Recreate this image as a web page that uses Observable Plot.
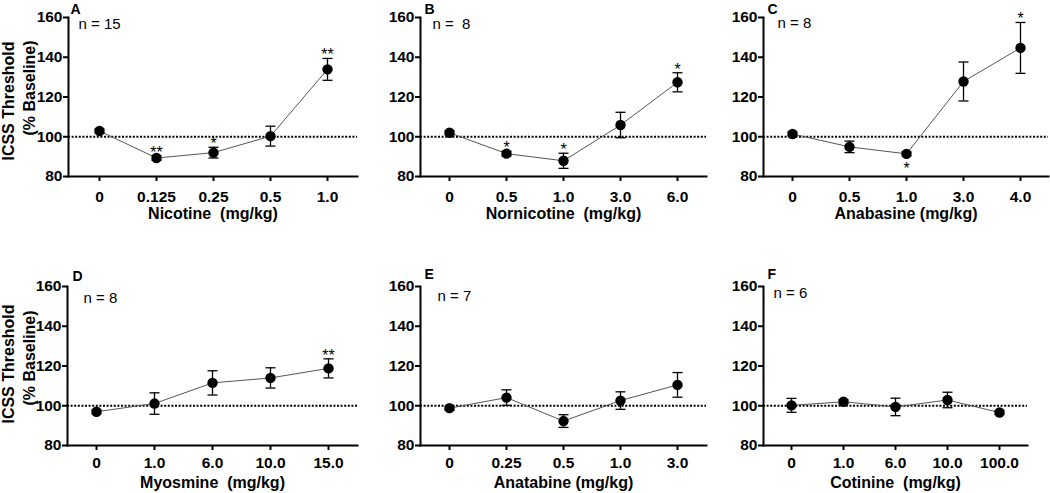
<!DOCTYPE html>
<html><head><meta charset="utf-8">
<script src="https://cdn.jsdelivr.net/npm/d3@7"></script>
<script src="https://cdn.jsdelivr.net/npm/@observablehq/plot@0.6"></script>
<style>
body{margin:0;background:#fff;}
#root{position:relative;width:1050px;height:493px;overflow:hidden;background:#fff;}
#root svg{position:absolute;overflow:visible;}
#root text{white-space:pre;}
</style></head><body><div id="root"></div>
<script>
// ---- data ----
const yTicks = [80, 100, 120, 140, 160];
const yLabelLines = ["ICSS Threshold", "(% Baseline)"];
const panelLetters = ["A", "B", "C", "D", "E", "F"];
const drugLabels = ["Nicotine  (mg/kg)", "Nornicotine  (mg/kg)", "Anabasine (mg/kg)", "Myosmine  (mg/kg)", "Anatabine (mg/kg)", "Cotinine  (mg/kg)"];
const nLabels = ["n = 15", "n =  8", "n = 8", "n = 8", "n = 7", "n = 6"];

const dosesA = ["0", "0.125", "0.25", "0.5", "1.0"];
const meansA = [102.9, 89.3, 92.0, 100.3, 133.9];
const semsA  = [1.0, 1.2, 2.7, 5.0, 5.5];
const sigA   = ["", "**", "*", "", "**"];

const dosesB = ["0", "0.5", "1.0", "3.0", "6.0"];
const meansB = [102.0, 91.5, 87.9, 105.9, 127.4];
const semsB  = [1.0, 1.2, 3.8, 6.4, 4.8];
const sigB   = ["", "*", "*", "", "*"];

const dosesC = ["0", "0.5", "1.0", "3.0", "4.0"];
const meansC = [101.4, 94.9, 91.4, 127.8, 144.7];
const semsC  = [1.0, 2.9, 1.0, 9.8, 12.8];
const sigC   = ["", "", "*", "", "*"];
const sigBelowC = [false, false, true, false, false];

const dosesD = ["0", "1.0", "6.0", "10.0", "15.0"];
const meansD = [97.0, 101.1, 111.5, 114.0, 118.8];
const semsD  = [1.0, 5.4, 6.1, 5.1, 4.8];
const sigD   = ["", "", "", "", "**"];

const dosesE = ["0", "0.25", "0.5", "1.0", "3.0"];
const meansE = [98.8, 104.1, 92.3, 102.6, 110.5];
const semsE  = [1.0, 3.9, 3.2, 4.4, 6.2];
const sigE   = ["", "", "", "", ""];

const dosesF = ["0", "1.0", "6.0", "10.0", "100.0"];
const meansF = [100.2, 102.0, 99.4, 102.9, 96.6];
const semsF  = [3.5, 1.0, 4.4, 3.9, 1.0];
const sigF   = ["", "", "", "", ""];

const panelData = [
  [dosesA, meansA, semsA, sigA, null],
  [dosesB, meansB, semsB, sigB, null],
  [dosesC, meansC, semsC, sigC, sigBelowC],
  [dosesD, meansD, semsD, sigD, null],
  [dosesE, meansE, semsE, sigE, null],
  [dosesF, meansF, semsF, sigF, null]
];

// ---- layout ----
const layout = [
  {left: 0,   top: 0,   width: 360, height: 240, mt: 17, mb: 64, ml: 68, mr: 3,  pad: 9, letter: [2, -4], n: [10, 11], yl: [[-60, 4], [-39, -9]]},
  {left: 360, top: 0,   width: 350, height: 240, mt: 17, mb: 64, ml: 60, mr: 4,  pad: 9, letter: [4, -4], n: [12, 11]},
  {left: 710, top: 0,   width: 340, height: 240, mt: 17, mb: 64, ml: 53, mr: 2,  pad: 9, letter: [4, -4], n: [14, 10]},
  {left: 0,   top: 250, width: 360, height: 243, mt: 36, mb: 48, ml: 67, mr: 3,  pad: 6, letter: [5, -6], n: [16, 16], yl: [[-59, -2], [-38, -8]]},
  {left: 360, top: 250, width: 350, height: 243, mt: 36, mb: 48, ml: 60, mr: 4,  pad: 6, letter: [4, -8], n: [17, 14]},
  {left: 710, top: 250, width: 340, height: 243, mt: 36, mb: 48, ml: 53, mr: 23, pad: 6, letter: [4, -8], n: [10, 11]}
];

const FONT = '"Liberation Sans", Arial, Helvetica, sans-serif';
const capSymbol = {
  draw(ctx, size) {
    const r = Math.sqrt(size / Math.PI);
    ctx.moveTo(-r, 0);
    ctx.lineTo(r, 0);
  }
};

const root = document.getElementById("root");

panelData.forEach(([doses, means, sems, sigs, below], k) => {
  const L = layout[k];
  const rows = doses.map((d, i) => ({dose: d, mean: means[i], sem: sems[i], sig: sigs[i], below: below ? below[i] : false}));
  const marks = [
    Plot.ruleY([100], {stroke: "#000", strokeWidth: 2, strokeDasharray: "2,1.6"}),
    Plot.line(rows, {x: "dose", y: "mean", stroke: "#555", strokeWidth: 1}),
    Plot.ruleX(rows, {x: "dose", y1: d => d.mean - d.sem, y2: d => d.mean + d.sem, stroke: "#000", strokeWidth: 1.3}),
    Plot.dot(rows, {x: "dose", y: d => d.mean + d.sem, symbol: capSymbol, r: 5, stroke: "#000", strokeWidth: 1.3, fill: "none"}),
    Plot.dot(rows, {x: "dose", y: d => d.mean - d.sem, symbol: capSymbol, r: 5, stroke: "#000", strokeWidth: 1.3, fill: "none"}),
    Plot.dot(rows, {x: "dose", y: "mean", r: 5.2, fill: "#000", stroke: "none"}),
    Plot.text(rows.filter(d => d.sig && !d.below), {x: "dose", y: d => d.mean + d.sem, text: "sig", lineAnchor: "bottom", dy: 2, fontSize: 16, fontWeight: "normal"}),
    Plot.text(rows.filter(d => d.sig && d.below), {x: "dose", y: "mean", text: "sig", lineAnchor: "bottom", dy: 20, fontSize: 16, fontWeight: "normal"}),
    Plot.frame({anchor: "left", stroke: "#000", strokeWidth: 2}),
    Plot.frame({anchor: "bottom", stroke: "#000", strokeWidth: 2}),
    Plot.axisY({ticks: yTicks, tickSize: 5, tickPadding: 1, strokeWidth: 2, label: null, fontSize: 15.5, fontWeight: "bold"}),
    Plot.axisX({tickSize: 5, tickPadding: L.pad, strokeWidth: 2, label: null, fontSize: 15.5, fontWeight: "bold"}),
    Plot.text([panelLetters[k]], {frameAnchor: "top-left", dx: L.letter[0], dy: L.letter[1], lineAnchor: "bottom", textAnchor: "start", fontSize: 14, fontWeight: "bold"}),
    Plot.text([nLabels[k]], {frameAnchor: "top-left", dx: L.n[0], dy: L.n[1], lineAnchor: "bottom", textAnchor: "start", fontSize: 15, fontWeight: "normal"}),
    Plot.text([drugLabels[k]], {frameAnchor: "bottom", dy: 37, lineAnchor: "middle", textAnchor: "middle", fontSize: 16, fontWeight: "bold"})
  ];
  if (L.yl) {
    yLabelLines.forEach((t, j) => {
      marks.push(Plot.text([t], {frameAnchor: "left", dx: L.yl[j][0], dy: L.yl[j][1], rotate: -90, textAnchor: "middle", lineAnchor: "middle", fontSize: 16, fontWeight: "bold"}));
    });
  }
  const svg = Plot.plot({
    width: L.width, height: L.height,
    marginTop: L.mt, marginBottom: L.mb, marginLeft: L.ml, marginRight: L.mr,
    style: {background: "transparent", fontFamily: FONT, fontSize: "15px", color: "#000", overflow: "visible"},
    x: {type: "point", domain: doses, padding: 0.5, align: 0.5},
    y: {domain: [80, 160]},
    marks
  });
  svg.style.left = L.left + "px";
  svg.style.top = L.top + "px";
  root.appendChild(svg);
});
</script>
</body></html>
